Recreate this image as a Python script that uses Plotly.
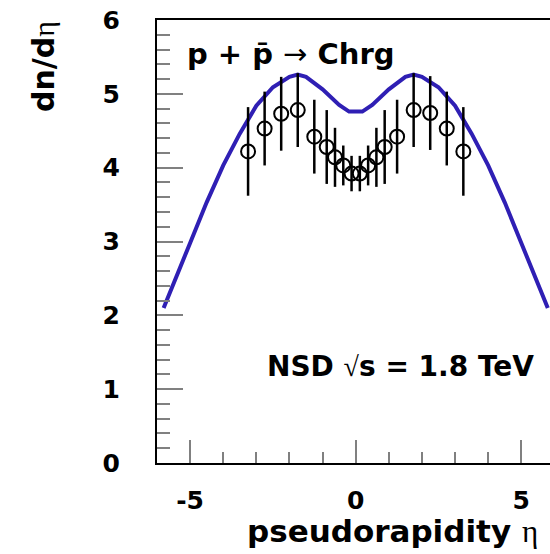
import plotly.graph_objects as go

# model curve
eta_curve = [-5.8, -5.5, -5.0, -4.5, -4.0, -3.5, -3.0, -2.5, -2.0, -1.75, -1.5, -1.0, -0.5, -0.2,
             0.2, 0.5, 1.0, 1.5, 1.75, 2.0, 2.5, 3.0, 3.5, 4.0, 4.5, 5.0, 5.5, 5.8]
dn_curve = [2.10, 2.42, 2.98, 3.53, 4.03, 4.46, 4.84, 5.09, 5.23, 5.26, 5.23, 5.06, 4.85, 4.76,
            4.76, 4.85, 5.06, 5.23, 5.26, 5.23, 5.09, 4.84, 4.46, 4.03, 3.53, 2.98, 2.42, 2.10]

# measured points
eta_data = [-3.25, -2.75, -2.25, -1.75, -1.25, -0.875, -0.625, -0.375, -0.125,
            0.125, 0.375, 0.625, 0.875, 1.25, 1.75, 2.25, 2.75, 3.25]
dn_data = [4.22, 4.53, 4.73, 4.78, 4.42, 4.28, 4.14, 4.03, 3.92,
           3.92, 4.03, 4.14, 4.28, 4.42, 4.78, 4.74, 4.53, 4.22]
dn_err = [0.60, 0.50, 0.50, 0.50, 0.50, 0.50, 0.40, 0.27, 0.24,
          0.24, 0.27, 0.40, 0.50, 0.50, 0.50, 0.50, 0.50, 0.60]

x_ticks = [-5, 0, 5]
y_ticks = [0, 1, 2, 3, 4, 5, 6]

FONT = "DejaVu Sans"
SYM = '<span style="font-weight:normal;font-family:\'%s\'">%s</span>'

W, H = 550, 554
L, R, T, B = 157, 0, 20, 554 - 463
pw, ph = W - L - R, H - T - B


def px(x):
    return (x - L) / pw


def py(y):
    return (H - B - y) / ph


fig = go.Figure()
fig.add_trace(go.Scatter(x=eta_curve, y=dn_curve, mode="lines", line=dict(color="#2f1fb4", width=4), showlegend=False))
fig.add_trace(go.Scatter(x=eta_data, y=dn_data, mode="markers",
                         marker=dict(symbol="circle-open", size=14, color="black", line=dict(width=2, color="black")),
                         error_y=dict(type="data", array=dn_err, visible=True, color="black", thickness=2.5, width=0),
                         showlegend=False))

ax_common = dict(showgrid=False, zeroline=False, showline=True, linecolor="black", linewidth=2,
                 ticks="inside", tickcolor="#808080", tickwidth=1.5, ticklabeloverflow="allow",
                 tickfont=dict(family=FONT, size=25, color="black", weight="bold"))
fig.update_xaxes(range=[-6, 6 * (pw / (355.7 - L)) - 6], tickvals=x_ticks, ticktext=[str(v) for v in x_ticks],
                 ticklen=23, ticklabelstandoff=14, mirror=True,
                 minor=dict(dtick=1, ticklen=11, ticks="inside", tickcolor="#808080", tickwidth=1.5), **ax_common)
fig.update_yaxes(range=[0, 6], tickvals=y_ticks, ticklen=26, ticklabelstandoff=30,
                 minor=dict(dtick=0.2, ticklen=13, ticks="inside", tickcolor="#808080", tickwidth=1.5), **ax_common)

ann_font = dict(family=FONT, color="black", weight="bold")
fig.add_annotation(text="p + p\u0304 " + SYM % ("DejaVu Sans", "\u2192") + " Chrg", xref="paper", yref="paper",
                   x=px(185), y=py(54), xanchor="left", yanchor="middle", showarrow=False,
                   font=dict(size=29, **ann_font))
fig.add_annotation(text="NSD " + SYM % ("Liberation Serif", "\u221a") + "s = 1.8 TeV", xref="paper", yref="paper",
                   x=px(265), y=py(366), xanchor="left", yanchor="middle", showarrow=False,
                   font=dict(size=28, **ann_font))
fig.add_annotation(text="pseudorapidity " + SYM % ("Liberation Serif", "\u03b7"), xref="paper", yref="paper",
                   x=px(245), y=py(531), xanchor="left", yanchor="middle", showarrow=False,
                   font=dict(size=31, **ann_font))
fig.add_annotation(text="dn/d" + SYM % ("Liberation Serif", "\u03b7"), xref="paper", yref="paper", textangle=-90,
                   x=px(44), y=py(67), xanchor="center", yanchor="middle", showarrow=False,
                   font=dict(size=30, **ann_font))

fig.update_layout(width=W, height=H, margin=dict(l=L, r=R, t=T, b=B, autoexpand=False),
                  plot_bgcolor="white", paper_bgcolor="white", font=dict(family=FONT))
# drop the browser's default 8 px body margin so the figure fills the window
fig.write_html("out.html", config={"displayModeBar": False},
               post_script="document.body.style.margin='0';document.body.style.overflow='hidden';")
